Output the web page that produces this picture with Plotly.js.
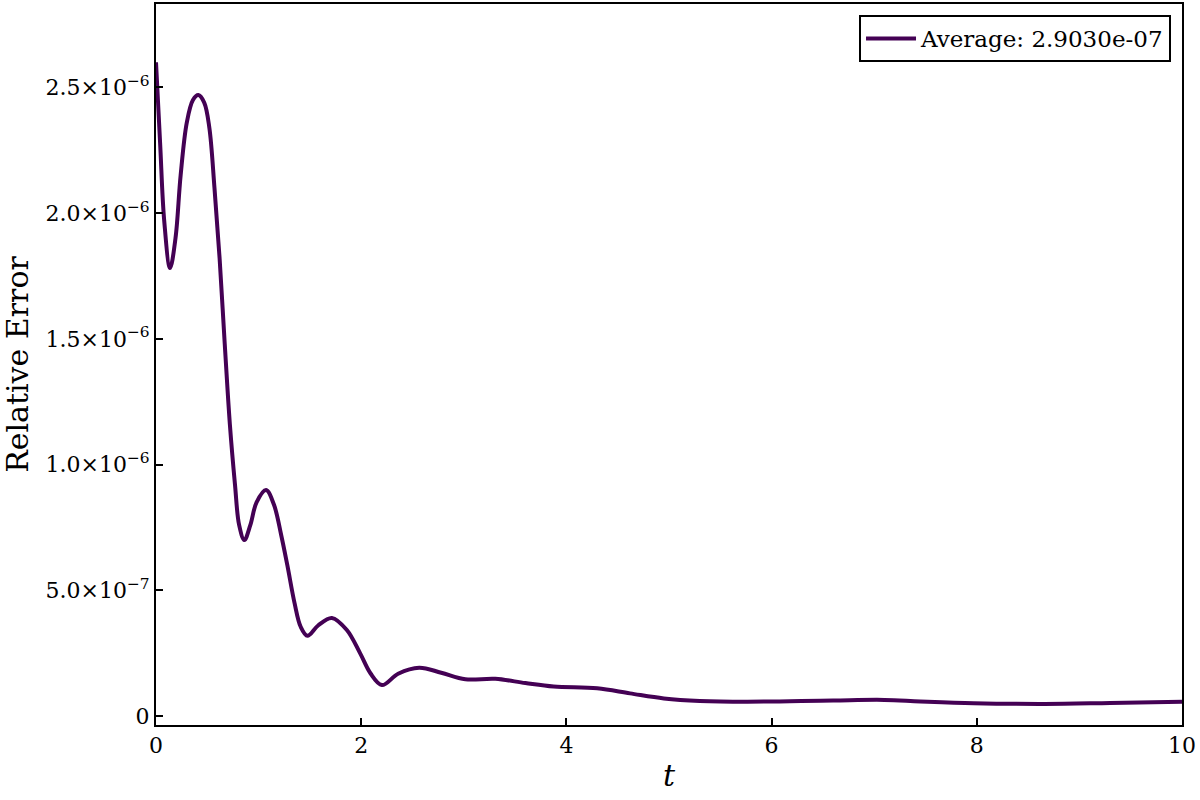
<!DOCTYPE html>
<html>
<head>
<meta charset="utf-8">
<script src="https://cdn.plot.ly/plotly-3.0.1.min.js"></script>
<style>html,body{margin:0;padding:0;background:#fff;}#chart{width:1200px;height:800px;}</style>
</head>
<body>
<div id="chart"></div>
<script>
const tValues = [0, 0.04, 0.08, 0.137, 0.19, 0.24, 0.30, 0.36, 0.413, 0.47, 0.52, 0.57, 0.62, 0.67, 0.72, 0.77, 0.81, 0.861, 0.92, 0.98, 1.073, 1.15, 1.22, 1.28, 1.35, 1.41, 1.476, 1.58, 1.714, 1.86, 1.99, 2.09, 2.202, 2.36, 2.565, 2.78, 3.015, 3.307, 3.6, 3.876, 4.3, 4.62, 4.95, 5.3, 5.76, 6.6, 7.1, 7.45, 7.97, 8.66, 9.3, 10];
const errValues = [2.60e-6, 2.28e-6, 1.97e-6, 1.782e-6, 1.90e-6, 2.15e-6, 2.36e-6, 2.45e-6, 2.47e-6, 2.44e-6, 2.34e-6, 2.10e-6, 1.82e-6, 1.48e-6, 1.16e-6, 0.92e-6, 0.76e-6, 0.700e-6, 0.76e-6, 0.85e-6, 0.899e-6, 0.84e-6, 0.72e-6, 0.60e-6, 0.45e-6, 0.355e-6, 0.319e-6, 0.36e-6, 0.390e-6, 0.342e-6, 0.249e-6, 0.170e-6, 0.123e-6, 0.168e-6, 0.192e-6, 0.172e-6, 0.146e-6, 0.148e-6, 0.131e-6, 0.117e-6, 0.110e-6, 0.090e-6, 0.070e-6, 0.060e-6, 0.057e-6, 0.062e-6, 0.064e-6, 0.058e-6, 0.051e-6, 0.048e-6, 0.052e-6, 0.057e-6];
const yTickVals = [0, 5e-7, 1e-6, 1.5e-6, 2e-6, 2.5e-6];
const yTickText = ["0", "5.0×10<sup>−7</sup>", "1.0×10<sup>−6</sup>", "1.5×10<sup>−6</sup>", "2.0×10<sup>−6</sup>", "2.5×10<sup>−6</sup>"];
const xTickVals = [0, 2, 4, 6, 8, 10];
const legendLabel = "Average: 2.9030e-07";

const font = "DejaVu Serif, serif";
Plotly.newPlot('chart', [{
  x: tValues, y: errValues, type: 'scatter', mode: 'lines',
  line: {color: '#440154', width: 4, shape: 'spline', smoothing: 1},
  name: legendLabel
}], {
  width: 1200, height: 800,
  margin: {l: 156, r: 18, t: 4, b: 75},
  paper_bgcolor: '#fff', plot_bgcolor: '#fff',
  font: {family: font, size: 22, color: '#000'},
  showlegend: true,
  legend: {x: 0.9893, y: 0.9847, xanchor: 'right', yanchor: 'top', bordercolor: '#000', borderwidth: 2, bgcolor: '#fff', font: {family: font, size: 23}, itemwidth: 50},
  xaxis: {
    range: [0, 10], tickvals: xTickVals, ticks: 'inside', ticklen: 7, tickwidth: 2, tickcolor: '#000',
    showline: true, linewidth: 2, linecolor: '#000', mirror: true, showgrid: false, zeroline: false,
    tickfont: {family: font, size: 22},
    title: {text: '<i>t</i>', font: {family: font, size: 30}, standoff: 8}
  },
  yaxis: {
    range: [-0.0358e-6, 2.832e-6], tickvals: yTickVals, ticktext: yTickText, ticks: 'inside', ticklen: 7, tickwidth: 2, tickcolor: '#000',
    showline: true, linewidth: 2, linecolor: '#000', mirror: true, showgrid: false, zeroline: false,
    tickfont: {family: font, size: 22},
    title: {text: 'Relative Error', font: {family: font, size: 30}, standoff: 10}
  }
}, {displayModeBar: false});
</script>
</body>
</html>
